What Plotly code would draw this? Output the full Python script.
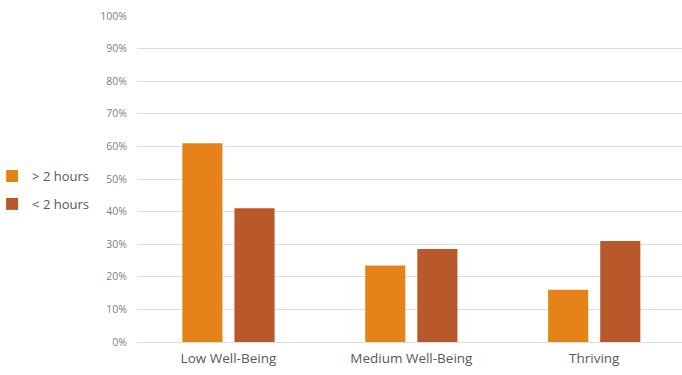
import plotly.graph_objects as go

categories = ["Low Well-Being", "Medium Well-Being", "Thriving"]
over_2_hours = [0.61, 0.235, 0.16]
under_2_hours = [0.41, 0.285, 0.31]
series_names = ["> 2 hours", "< 2 hours"]
colors = ["#E5831A", "#B9592B"]

fig = go.Figure()
for i, (name, vals, col) in enumerate(zip(series_names, [over_2_hours, under_2_hours], colors)):
    fig.add_trace(go.Bar(
        x=categories, y=vals, name=name, marker=dict(color=col, line=dict(width=0)),
        legendgroup=f"g{i}",
    ))

fig.update_layout(
    width=682, height=375,
    margin=dict(l=137, r=0, t=16, b=33),
    paper_bgcolor="white", plot_bgcolor="white",
    barmode="group", bargap=0.43, bargroupgap=0.23,
    font=dict(family="Open Sans, Lato, sans-serif", color="#595959"),
    showlegend=True,
    legend=dict(
        x=0.006, xref="container", xanchor="left", y=0.555, yanchor="top",
        font=dict(size=13, color="#595959"),
        tracegroupgap=8, itemwidth=30, indentation=-12,
        bgcolor="rgba(0,0,0,0)",
    ),
    xaxis=dict(
        range=[-0.5, 2.48], showgrid=False, showline=False, zeroline=False,
        ticks="", tickfont=dict(size=13.5, color="#595959"), ticklabelstandoff=6,
    ),
    yaxis=dict(
        range=[0, 1.0], dtick=0.1, tickformat=".0%",
        showgrid=True, gridcolor="#DCDCDC", gridwidth=1,
        zeroline=True, zerolinecolor="#DCDCDC", zerolinewidth=1,
        showline=False, ticks="",
        tickfont=dict(size=10.5, color="#808080"), ticklabelstandoff=9,
    ),
)

fig.write_html("out.html")
